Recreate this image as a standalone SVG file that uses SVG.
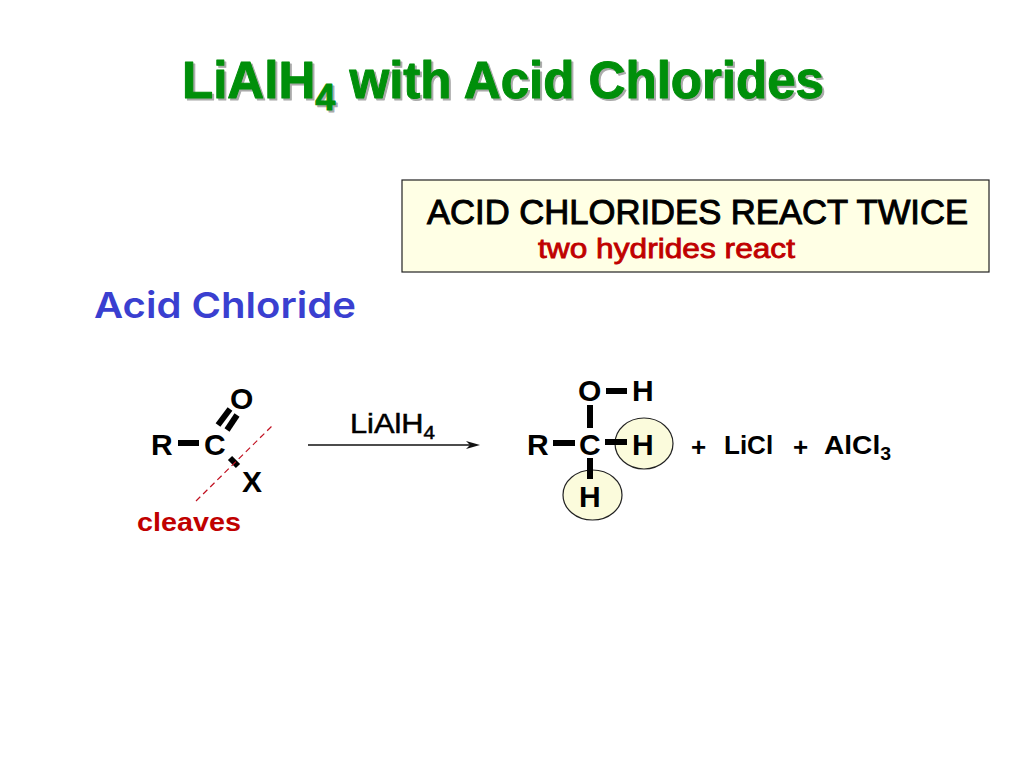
<svg xmlns="http://www.w3.org/2000/svg" width="1024" height="768" viewBox="0 0 1024 768">
<style>
text{font-family:"Liberation Sans",Arial,sans-serif;font-weight:700}
.t{font-size:51px;fill:#008f0a;stroke:#008f0a;stroke-width:1px;stroke-linejoin:round}
.s{font-size:51px;fill:#aaa;stroke:#aaa;stroke-width:1px;stroke-linejoin:round}
.a{font-size:30px;fill:#000}
.b{stroke:#000;stroke-width:6;fill:none}
.e{fill:#fbfbdc;stroke:#222;stroke-width:1.2}
.pl{font-size:26px;fill:#000}
</style>
<rect width="1024" height="768" fill="#fff"/>
<g id="title">
<text class="s" x="184" y="100" textLength="642" lengthAdjust="spacingAndGlyphs">LiAlH<tspan font-size="36" dy="12">4</tspan><tspan dy="-12"> with Acid Chlorides</tspan></text>
<text class="t" x="182" y="98" textLength="642" lengthAdjust="spacingAndGlyphs">LiAlH<tspan font-size="36" dy="12">4</tspan><tspan dy="-12"> with Acid Chlorides</tspan></text>
</g>
<g id="note">
<rect x="402" y="180" width="587" height="92" fill="#ffffe5" stroke="#222" stroke-width="1.2"/>
<text x="427" y="224" font-size="35" fill="#000" textLength="541" lengthAdjust="spacingAndGlyphs" style="font-weight:400;stroke:#000;stroke-width:1px">ACID CHLORIDES REACT TWICE</text>
<text x="538" y="258" font-size="27" fill="#c00000" textLength="257" lengthAdjust="spacingAndGlyphs" style="font-weight:400;stroke:#c00000;stroke-width:.8px">two hydrides react</text>
</g>
<g id="heading"><text x="94" y="318" font-size="36" fill="#3a3fd0" textLength="262" lengthAdjust="spacingAndGlyphs" style="font-family:Inter,sans-serif;font-weight:600">Acid Chloride</text></g>
<g id="highlights">
<ellipse class="e" cx="644" cy="443.5" rx="29" ry="25.5"/>
<ellipse class="e" cx="592.5" cy="495" rx="29.5" ry="25"/>
</g>
<g id="connectors">
<line class="b" x1="178" y1="443" x2="199" y2="443"/>
<line class="b" x1="218" y1="425" x2="230" y2="409"/>
<line class="b" x1="227" y1="430" x2="237" y2="415"/>
<line class="b" x1="230" y1="458" x2="238" y2="466"/>
<line x1="196" y1="501" x2="273" y2="425" stroke="#c01020" stroke-width="1.2" stroke-dasharray="6 4"/>
<line x1="308" y1="445" x2="476" y2="445" stroke="#111" stroke-width="1.3"/>
<path d="M480 445 L466 441 L470 445 L466 449 Z" fill="#111"/>
<line class="b" x1="553" y1="443" x2="575" y2="443"/>
<line class="b" x1="606" y1="391" x2="627" y2="391"/>
<line class="b" x1="590" y1="405" x2="590" y2="428"/>
<line class="b" x1="605" y1="442" x2="627" y2="442"/>
<line class="b" x1="590" y1="458" x2="590" y2="479"/>
</g>
<g id="reactant">
<text class="a" x="151" y="455">R</text>
<text class="a" x="204" y="455">C</text>
<text class="a" x="230" y="409">O</text>
<text class="a" x="242" y="492">X</text>
<text x="137" y="531" font-size="26" fill="#c00000" textLength="104" lengthAdjust="spacingAndGlyphs">cleaves</text>
</g>
<g id="reagent"><text x="350" y="433" font-size="27" fill="#000" textLength="85" lengthAdjust="spacingAndGlyphs" style="font-weight:400;stroke:#000;stroke-width:.5px">LiAlH<tspan font-size="18" dy="6">4</tspan></text></g>
<g id="product">
<text class="a" x="527" y="455">R</text>
<text class="a" x="579" y="455">C</text>
<text class="a" x="578" y="401">O</text>
<text class="a" x="632" y="401">H</text>
<text class="a" x="632" y="455">H</text>
<text class="a" x="579" y="507">H</text>
<text class="pl" x="691" y="456">+</text>
<text class="pl" x="724" y="454">LiCl</text>
<text class="pl" x="793" y="456">+</text>
<text class="pl" x="824" y="454" textLength="67" lengthAdjust="spacingAndGlyphs">AlCl<tspan font-size="18" dy="6">3</tspan></text>
</g>
</svg>
